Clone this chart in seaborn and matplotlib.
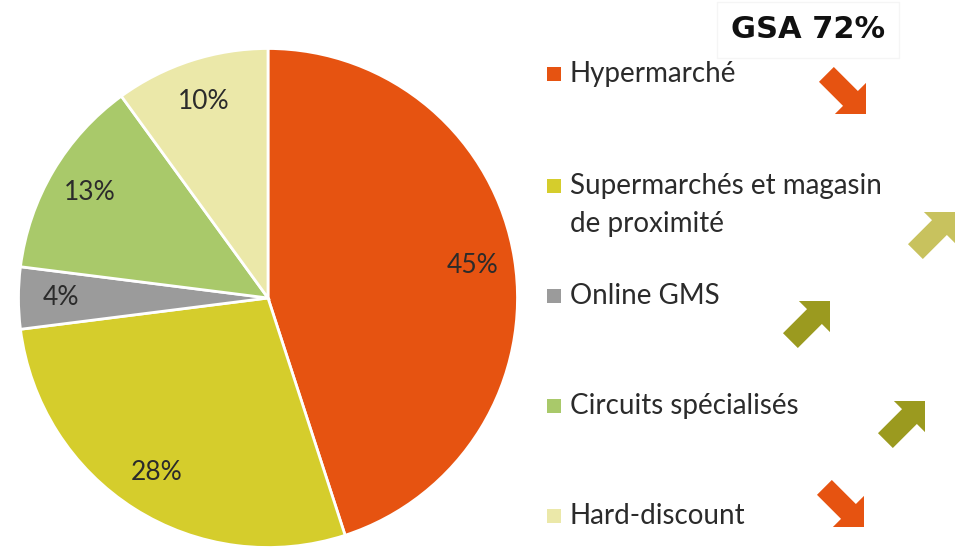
import numpy as np
import seaborn as sns
import matplotlib.pyplot as plt
from matplotlib.patches import FancyArrow

sns.set_theme(style="white")
plt.rcParams["font.family"] = ["Lato", "DejaVu Sans"]

# data
categories = ["Hypermarché", "Supermarchés et magasin\nde proximité", "Online GMS",
              "Circuits spécialisés", "Hard-discount"]
shares = [45, 28, 4, 13, 10]
colors = ["#e65311", "#d5cd2c", "#9b9b9b", "#a9c96a", "#ebe8a9"]
trend = ["down", "up", "up", "up", "down"]
trend_colors = ["#e65311", "#c8c25e", "#9b9a1f", "#9b9a1f", "#e65311"]
headline = "GSA 72%"

W, H = 966, 556
fig = plt.figure(figsize=(W / 100, H / 100), dpi=100)

# pie
cx, cy, r = 268, 298, 252
ax = fig.add_axes([(cx - r) / W, (H - cy - r) / H, 2 * r / W, 2 * r / H])
wedges, texts, autotexts = ax.pie(
    shares, colors=colors, startangle=90, counterclock=False,
    autopct="%d%%", pctdistance=0.83,
    wedgeprops=dict(edgecolor="white", linewidth=2),
    textprops=dict(fontsize=19, color="#2b2b2b"))
ax.set_xlim(-1.01, 1.01)
ax.set_ylim(-1.01, 1.01)
ax.set_aspect("equal")

# overlay in pixel coordinates for legend and arrows
ov = fig.add_axes([0, 0, 1, 1])
ov.set_xlim(0, W)
ov.set_ylim(H, 0)
ov.axis("off")

legend_y = [74, 186, 296, 406, 516]
for lab, col, y in zip(categories, colors, legend_y):
    ov.scatter([554], [y], marker="s", s=90, color=col, linewidths=0)
    ov.text(570, y - 13, lab, fontsize=20, color="#2b2b2b", va="top",
            ha="left", linespacing=1.55)

# trend arrows (tip positions)
arrow_tips = [(866, 114), (955, 212), (830, 301), (925, 401), (864, 527)]
L = 56
for (tx, ty), d, col in zip(arrow_tips, trend, trend_colors):
    ux, uy = (0.7071, 0.7071) if d == "down" else (0.7071, -0.7071)
    sx, sy = tx - L * ux, ty - L * uy
    ov.add_patch(FancyArrow(sx, sy, L * ux, L * uy, width=21, head_width=44,
                            head_length=22, length_includes_head=True,
                            color=col, linewidth=0))

ov.text(808, 30, headline, fontsize=22, fontweight="bold", color="#111111",
        ha="center", va="center", family=["DejaVu Sans"],
        bbox=dict(boxstyle="square,pad=0.45", facecolor="white",
                  edgecolor="#f5f5f5", linewidth=1))

plt.savefig("out.png", dpi=100)
